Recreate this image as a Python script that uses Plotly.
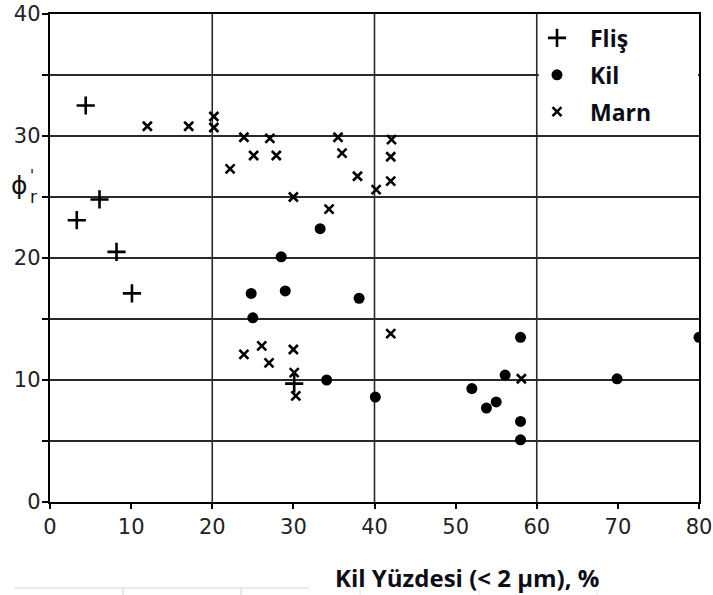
import plotly.graph_objects as go

# ---- data ----
flis_x = [4.4, 6.1, 3.3, 8.2, 10.1, 30.1]
flis_y = [32.5, 24.8, 23.1, 20.5, 17.1, 9.7]

kil_x = [33.3, 28.5, 24.8, 29.0, 25.0, 34.1, 38.1, 40.1, 58.0, 56.1, 52.0, 53.8, 55.0, 58.0, 58.0, 69.9, 80.0]
kil_y = [22.4, 20.1, 17.1, 17.3, 15.1, 10.0, 16.7, 8.6, 13.5, 10.4, 9.3, 7.7, 8.2, 6.6, 5.1, 10.1, 13.5]

marn_x = [12.0, 17.1, 20.2, 20.2, 23.9, 27.1, 35.5, 25.1, 27.9, 36.0, 22.2, 37.9, 30.0, 34.4, 40.2,
          42.1, 42.0, 42.0, 23.9, 26.1, 27.0, 30.0, 30.1, 30.3, 42.0, 58.1]
marn_y = [30.8, 30.8, 31.6, 30.7, 29.9, 29.8, 29.9, 28.4, 28.4, 28.6, 27.3, 26.7, 25.0, 24.0, 25.6,
          29.7, 28.3, 26.3, 12.1, 12.8, 11.4, 12.5, 10.6, 8.7, 13.8, 10.1]

series_names = ["Fliş", "Kil", "Marn"]
x_tick_vals = [0, 10, 20, 30, 40, 50, 60, 70, 80]
y_tick_vals = [0, 5, 10, 15, 20, 25, 30, 35, 40]
y_tick_text = ["0", "", "10", "", "20", "", "30", "", "40"]
x_grid = [20, 40, 60]

x_title = "Kil Yüzdesi (< 2 μm), %"

# ---- layout helpers (pixel -> paper) ----
W, H = 713, 595
L, R, T, B = 50, 14, 14, 93
pw, ph = W - L - R, H - T - B


def px(xp):
    return (xp - L) / pw


def py(yp):
    return (H - B - yp) / ph


fig = go.Figure()
fig.add_trace(go.Scatter(x=flis_x, y=flis_y, mode="markers", name=series_names[0], legendgroup="a",
                         marker=dict(symbol="cross-thin", size=13, color="black",
                                     line=dict(width=2.6, color="black"))))
fig.add_trace(go.Scatter(x=kil_x, y=kil_y, mode="markers", name=series_names[1], legendgroup="b",
                         marker=dict(symbol="circle", size=11, color="black")))
fig.add_trace(go.Scatter(x=marn_x, y=marn_y, mode="markers", name=series_names[2], legendgroup="c",
                         marker=dict(symbol="x-thin", size=9, color="black",
                                     line=dict(width=2.6, color="black"))))

shapes = []
for g in x_grid:
    shapes.append(dict(type="line", xref="x", yref="y", x0=g, x1=g, y0=0, y1=40,
                       line=dict(color="#2a2a2a", width=1.6), layer="between"))
# white area behind the legend (hides the 35 gridline there)
shapes.append(dict(type="rect", xref="x", yref="y", x0=60.25, x1=79.88, y0=30.3, y1=39.7,
                   fillcolor="white", line=dict(width=0), layer="above"))
# faint spreadsheet artefact at the bottom
shapes.append(dict(type="line", xref="paper", yref="paper", x0=px(14), x1=px(309), y0=py(588), y1=py(588),
                   line=dict(color="#d6d6d6", width=1)))
for xp in [123, 241]:
    shapes.append(dict(type="line", xref="paper", yref="paper", x0=px(xp), x1=px(xp), y0=py(588), y1=py(596),
                       line=dict(color="#d0d0d0", width=1)))
for xp in [360, 479, 597]:
    shapes.append(dict(type="line", xref="paper", yref="paper", x0=px(xp), x1=px(xp), y0=py(589), y1=py(596),
                       line=dict(color="#e6e6e6", width=1)))

fig.update_layout(
    width=W, height=H,
    margin=dict(l=L, r=R, t=T, b=B, autoexpand=False),
    paper_bgcolor="white", plot_bgcolor="white",
    showlegend=True,
    legend=dict(x=px(524), xanchor="left", y=0.995, yanchor="top",
                bgcolor="rgba(0,0,0,0)", borderwidth=0, tracegroupgap=4,
                font=dict(family="Open Sans", size=23, color="#0d0d1a", weight="bold"),
                itemwidth=56),
    shapes=shapes,
    xaxis=dict(range=[0, 80], tickvals=x_tick_vals, showgrid=False, zeroline=False, automargin=False,
               showline=True, linecolor="black", linewidth=2.4, mirror=True,
               ticks="outside", ticklen=5, tickwidth=1.5, tickcolor="black",
               tickfont=dict(family="DejaVu Sans", size=21, color="#222")),
    yaxis=dict(range=[0, 40], tickvals=y_tick_vals, ticktext=y_tick_text, automargin=False,
               showgrid=True, gridcolor="#2a2a2a", gridwidth=1.6, zeroline=False,
               showline=True, linecolor="black", linewidth=2.4, mirror=True,
               ticks="outside", ticklen=6, tickwidth=1.5, tickcolor="black", ticklabelstandoff=-3,
               tickfont=dict(family="DejaVu Sans", size=21, color="#222")),
    annotations=[
        dict(text=x_title, xref="paper", yref="paper", x=px(467), y=py(577), showarrow=False,
             xanchor="center", yanchor="middle",
             font=dict(family="Open Sans", size=24, color="#0d0d1a", weight="bold")),
        dict(text="ϕ", xref="paper", yref="paper", x=px(19), y=py(185), showarrow=False,
             xanchor="center", yanchor="middle",
             font=dict(family="DejaVu Sans", size=25, color="#111")),
        dict(text="r", xref="paper", yref="paper", x=px(33), y=py(197), showarrow=False,
             xanchor="center", yanchor="middle",
             font=dict(family="DejaVu Sans", size=17, color="#111")),
        dict(text="'", xref="paper", yref="paper", x=px(32), y=py(176), showarrow=False,
             xanchor="center", yanchor="middle",
             font=dict(family="DejaVu Sans", size=15, color="#111")),
    ],
)

fig.write_html("out.html")
